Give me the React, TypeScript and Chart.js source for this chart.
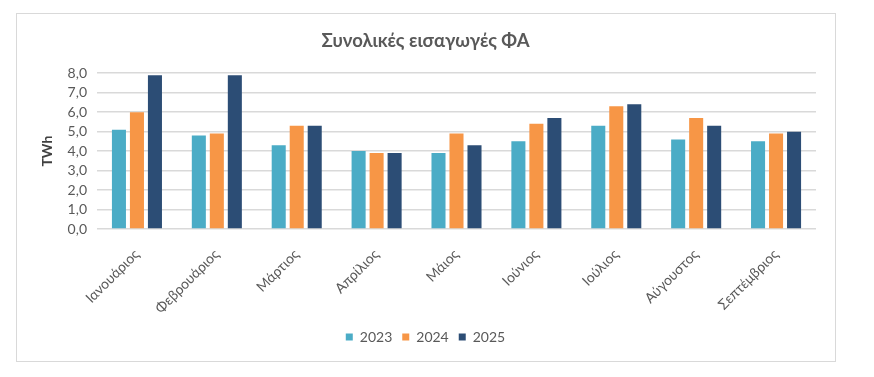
import React, { useEffect, useRef } from "react";
import { Chart, registerables } from "chart.js";

Chart.register(...registerables);

const categories = [
  "Ιανουάριος",
  "Φεβρουάριος",
  "Μάρτιος",
  "Απρίλιος",
  "Μάιος",
  "Ιούνιος",
  "Ιούλιος",
  "Αύγουστος",
  "Σεπτέμβριος",
];
const values2023 = [5.1, 4.8, 4.3, 4.0, 3.9, 4.5, 5.3, 4.6, 4.5];
const values2024 = [6.0, 4.9, 5.3, 3.9, 4.9, 5.4, 6.3, 5.7, 4.9];
const values2025 = [7.9, 7.9, 5.3, 3.9, 4.3, 5.7, 6.4, 5.3, 5.0];
const seriesLabels = ["2023", "2024", "2025"];
const titleText = "Συνολικές εισαγωγές ΦΑ";
const yTitle = "TWh";

const FONT = "Lato, 'Open Sans', sans-serif";

export default function App() {
  const ref = useRef<HTMLCanvasElement | null>(null);

  useEffect(() => {
    if (!ref.current) return;
    const common = { categoryPercentage: 0.676, barPercentage: 0.78, borderWidth: 0 };
    const chart = new Chart(ref.current, {
      type: "bar",
      data: {
        labels: categories,
        datasets: [
          { label: seriesLabels[0], data: values2023, backgroundColor: "#4BACC6", ...common },
          { label: seriesLabels[1], data: values2024, backgroundColor: "#F79646", ...common },
          { label: seriesLabels[2], data: values2025, backgroundColor: "#2C4D75", ...common },
        ],
      },
      options: {
        responsive: false,
        animation: false,
        layout: { padding: { left: 18, right: 19, top: 0, bottom: 7 } },
        plugins: {
          title: {
            display: true,
            text: titleText,
            color: "#595959",
            font: { family: FONT, size: 18.5, weight: "bold" },
            padding: { top: 16, bottom: 21 },
          },
          legend: {
            position: "bottom",
            labels: {
              color: "#595959",
              font: { family: FONT, size: 14 },
              boxWidth: 7,
              boxHeight: 7,
              padding: 10,
            },
          },
          tooltip: { enabled: false },
        },
        scales: {
          x: {
            grid: { display: false },
            border: { display: false },
            ticks: {
              color: "#595959",
              font: { family: FONT, size: 14 },
              minRotation: 45,
              maxRotation: 45,
              padding: 9,
            },
            afterFit: (s: any) => {
              s.height = 91;
            },
          },
          y: {
            min: 0,
            max: 8,
            grid: { color: "#d9d9d9", lineWidth: 1.5, drawTicks: false },
            border: { display: false },
            ticks: {
              stepSize: 1,
              autoSkip: false,
              color: "#595959",
              font: { family: FONT, size: 14 },
              padding: 10,
              callback: (v: any) => Number(v).toFixed(1).replace(".", ","),
            },
            title: {
              display: true,
              text: yTitle,
              color: "#404040",
              font: { family: FONT, size: 14, weight: "bold" },
              padding: { top: 4, bottom: 0 },
            },
            afterFit: (s: any) => {
              s.width = 62;
            },
          },
        },
      },
    });
    return () => chart.destroy();
  }, []);

  return (
    <div
      style={{
        position: "absolute",
        left: 16,
        top: 13,
        width: 818,
        height: 347,
        border: "1px solid #d9d9d9",
        background: "#fff",
      }}
    >
      <canvas ref={ref} width={818} height={347} style={{ display: "block" }} />
    </div>
  );
}
